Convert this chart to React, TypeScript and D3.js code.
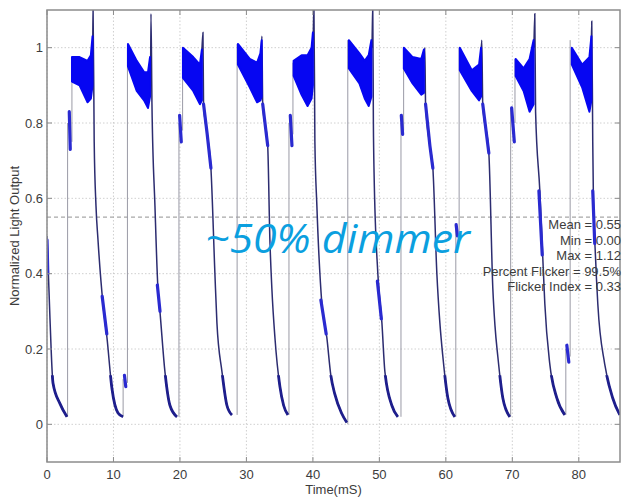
import React from "react";
import * as d3 from "d3";

const W = 624;
const H = 499;

const xTicks = [0, 10, 20, 30, 40, 50, 60, 70, 80];
const yTicks = [0, 0.2, 0.4, 0.6, 0.8, 1];
const yTickLabels = ["0", "0.2", "0.4", "0.6", "0.8", "1"];
const xLabel = "Time(mS)";
const yLabel = "Normalized Light Output";
const statLines = [
  "Mean = 0.55",
  "Min = 0.00",
  "Max = 1.12",
  "Percent Flicker = 99.5%",
  "Flicker Index = 0.33",
];
const meanLevel = 0.55;
const annotation = "~50% dimmer";

// rising edges: [time, from, to]
const riseEdges = [
  [3.1, 0.02, 0.8], [3.75, 0.75, 0.97],
  [11.45, 0.02, 0.12], [12.1, 0.11, 1.0],
  [19.85, 0.02, 0.8], [20.4, 0.78, 1.0],
  [28.6, 0.025, 1.01],
  [36.4, 0.025, 0.8], [37.0, 0.77, 0.96],
  [45.25, 0.0, 1.02],
  [53.25, 0.02, 0.8], [53.65, 0.78, 1.0],
  [61.5, 0.02, 0.52], [62.0, 0.5, 1.0],
  [69.75, 0.02, 0.84], [70.4, 0.8, 0.97],
  [78.05, 0.025, 0.2], [78.7, 0.18, 1.02],
];

// plateau bands: [time, low, high]
const plateauBands = [
  [[3.76, 0.91, 0.975], [4.9, 0.9, 0.975], [6.1, 0.855, 0.965], [6.6, 0.865, 0.98], [6.85, 0.9, 1.03]],
  [[12.18, 0.95, 1.01], [13.5, 0.885, 0.965], [14.6, 0.86, 0.935], [15.2, 0.84, 0.935], [15.5, 0.87, 0.975]],
  [[20.45, 0.92, 1.0], [22.0, 0.885, 0.975], [23.0, 0.85, 0.955], [23.3, 0.86, 0.995]],
  [[28.72, 0.955, 1.01], [30.5, 0.895, 0.97], [31.6, 0.855, 0.96], [32.1, 0.86, 0.985], [32.3, 0.87, 1.02]],
  [[37.1, 0.925, 0.965], [38.3, 0.875, 0.98], [39.2, 0.845, 0.98], [39.8, 0.865, 1.0], [40.0, 0.9, 1.04]],
  [[45.41, 0.945, 1.02], [47.0, 0.905, 0.985], [47.8, 0.865, 0.965], [48.4, 0.845, 0.98], [48.8, 0.87, 1.02]],
  [[53.68, 0.945, 1.0], [55.0, 0.905, 0.975], [56.3, 0.875, 0.97], [56.7, 0.88, 0.995]],
  [[62.1, 0.94, 1.0], [63.9, 0.885, 0.94], [65.0, 0.86, 0.955], [65.3, 0.87, 1.0]],
  [[70.5, 0.925, 0.97], [71.7, 0.885, 0.945], [72.6, 0.83, 0.97], [73.2, 0.85, 1.02]],
  [[78.95, 0.955, 1.0], [80.5, 0.895, 0.955], [81.6, 0.83, 0.975], [81.9, 0.86, 1.03]],
];

// falling edges and decays: [time, value]
const fallCurves = [
  [[0, 0.5], [0.15, 0.43], [0.45, 0.28], [0.9, 0.11], [1.95, 0.055], [3.0, 0.02]],
  [[6.88, 1.0], [6.92, 1.12], [7.1, 0.75], [7.37, 0.58], [7.67, 0.49], [8.42, 0.32], [9.02, 0.23], [9.77, 0.095], [10.68, 0.03], [11.43, 0.02]],
  [[15.6, 0.97], [15.64, 1.09], [15.79, 0.85], [16.24, 0.58], [16.69, 0.36], [16.99, 0.3], [17.74, 0.14], [18.5, 0.05], [19.55, 0.02]],
  [[23.3, 0.99], [23.46, 1.04], [23.55, 0.85], [24.1, 0.77], [24.66, 0.68], [25.26, 0.4], [25.56, 0.27], [26.32, 0.14], [27.07, 0.05], [27.82, 0.025]],
  [[32.25, 1.0], [32.33, 1.03], [32.45, 0.85], [33.2, 0.74], [33.53, 0.49], [33.83, 0.36], [34.29, 0.23], [35.04, 0.1], [35.6, 0.05], [36.24, 0.025]],
  [[40.05, 1.02], [40.15, 1.12], [40.3, 0.75], [40.6, 0.58], [41.35, 0.32], [42.1, 0.23], [42.7, 0.13], [43.3, 0.08], [44.3, 0.03], [45.1, 0.005]],
  [[48.9, 1.0], [49.0, 1.12], [49.1, 0.8], [49.2, 0.67], [49.77, 0.4], [50.38, 0.27], [50.83, 0.14], [51.88, 0.05], [52.78, 0.02]],
  [[56.75, 0.97], [56.84, 1.0], [56.95, 0.85], [57.6, 0.74], [58.05, 0.68], [58.65, 0.4], [59.1, 0.27], [59.55, 0.18], [60.3, 0.07], [61.35, 0.02]],
  [[65.3, 0.99], [65.41, 1.02], [65.55, 0.85], [66.47, 0.72], [67.07, 0.36], [67.4, 0.26], [67.82, 0.18], [68.57, 0.07], [69.62, 0.02]],
  [[73.25, 1.0], [73.38, 1.09], [73.5, 0.83], [74.14, 0.62], [74.59, 0.44], [74.89, 0.32], [75.64, 0.16], [76.69, 0.07], [77.89, 0.025]],
  [[81.9, 1.02], [81.95, 1.07], [82.1, 0.75], [82.2, 0.6], [82.5, 0.45], [82.86, 0.32], [83.9, 0.16], [85.1, 0.07], [86.17, 0.025]],
];

// dense blue segments: [time, value]
const blueStrokes = [
  [[0.0, 0.49], [0.12, 0.4]],
  [[3.35, 0.83], [3.5, 0.73]],
  [[8.3, 0.34], [9.0, 0.24]],
  [[11.65, 0.13], [11.85, 0.1]],
  [[16.6, 0.37], [17.0, 0.3]],
  [[19.95, 0.82], [20.2, 0.75]],
  [[23.55, 0.85], [24.1, 0.77], [24.66, 0.68]],
  [[32.45, 0.85], [33.2, 0.74]],
  [[36.6, 0.82], [36.85, 0.74]],
  [[41.2, 0.33], [42.0, 0.24]],
  [[49.7, 0.38], [50.3, 0.28]],
  [[53.3, 0.82], [53.5, 0.77]],
  [[56.95, 0.85], [57.6, 0.74], [58.05, 0.68]],
  [[61.55, 0.53], [61.75, 0.5]],
  [[65.55, 0.85], [66.47, 0.72]],
  [[69.9, 0.84], [70.3, 0.75]],
  [[74.0, 0.62], [74.5, 0.45]],
  [[78.2, 0.21], [78.5, 0.165]],
  [[82.1, 0.62], [82.4, 0.48]],
];

const L = 47, R = 620, T = 10, B = 462;

export default function App() {
  const x = d3.scaleLinear().domain([0, 86.2]).range([L, R]);
  const y = d3.scaleLinear().domain([-0.1, 1.1]).range([B, T]);

  const line = d3
    .line<number[]>()
    .x((d) => x(d[0]))
    .y((d) => y(d[1]))
    .curve(d3.curveMonotoneX);
  const straight = d3
    .line<number[]>()
    .x((d) => x(d[0]))
    .y((d) => y(d[1]));
  const area = d3
    .area<number[]>()
    .x((d) => x(d[0]))
    .y0((d) => y(d[1]))
    .y1((d) => y(d[2]));

  const font = "'Liberation Sans', Arial, sans-serif";
  const txt = "#3c3c3c";

  return (
    <svg
      width={W}
      height={H}
      viewBox={`0 0 ${W} ${H}`}
      style={{ position: "absolute", left: 0, top: 0, background: "#fff" }}
    >
      <defs>
        <clipPath id="plot">
          <rect x={L} y={T} width={R - L} height={B - T} />
        </clipPath>
        <clipPath id="tail">
          <rect x={L} y={y(0.13)} width={R - L} height={B - y(0.13)} />
        </clipPath>
      </defs>
      <rect x={0} y={0} width={W} height={H} fill="#fff" />

      {/* grid */}
      <g stroke="#c4c4c4" strokeWidth={0.8} strokeDasharray="1.5,2">
        {xTicks.map((t) => (
          <line key={"gx" + t} x1={x(t)} x2={x(t)} y1={T} y2={B} />
        ))}
        {yTicks.map((t) => (
          <line key={"gy" + t} x1={L} x2={R} y1={y(t)} y2={y(t)} />
        ))}
      </g>

      {/* mean line */}
      <line
        x1={L}
        x2={R}
        y1={y(meanLevel)}
        y2={y(meanLevel)}
        stroke="#a8a8a8"
        strokeWidth={1.2}
        strokeDasharray="4,3"
      />

      <g clipPath="url(#plot)">
        {riseEdges.map((e, i) => (
          <line
            key={"r" + i}
            x1={x(e[0])}
            x2={x(e[0])}
            y1={y(e[1])}
            y2={y(e[2])}
            stroke="#9a9aa6"
            strokeWidth={1}
          />
        ))}
        {fallCurves.map((c, i) => (
          <path key={"f" + i} d={line(c) || ""} fill="none" stroke="#2c2c70" strokeWidth={1.5} />
        ))}
        <g clipPath="url(#tail)">
          {fallCurves.map((c, i) => (
            <path key={"ft" + i} d={line(c) || ""} fill="none" stroke="#1e1e8c" strokeWidth={2.8} />
          ))}
        </g>
        {plateauBands.map((p, i) => (
          <path
            key={"p" + i}
            d={area(p) || ""}
            fill="#0606f2"
            stroke="#0606f2"
            strokeWidth={2}
            strokeLinejoin="round"
          />
        ))}
        {blueStrokes.map((s, i) => (
          <path
            key={"b" + i}
            d={straight(s) || ""}
            fill="none"
            stroke="#2a2ad0"
            strokeWidth={3.2}
            strokeLinecap="round"
          />
        ))}
      </g>

      {/* box and ticks */}
      <rect x={L} y={T} width={R - L} height={B - T} fill="none" stroke="#8c8c8c" strokeWidth={1.5} />
      <g stroke="#8c8c8c" strokeWidth={1}>
        {xTicks.map((t) => (
          <g key={"tx" + t}>
            <line x1={x(t)} x2={x(t)} y1={B} y2={B - 5} />
            <line x1={x(t)} x2={x(t)} y1={T} y2={T + 5} />
          </g>
        ))}
        {yTicks.map((t) => (
          <g key={"ty" + t}>
            <line x1={L} x2={L + 5} y1={y(t)} y2={y(t)} />
            <line x1={R} x2={R - 5} y1={y(t)} y2={y(t)} />
          </g>
        ))}
      </g>

      {/* tick labels */}
      <g fontFamily={font} fontSize={13} fill={txt}>
        {xTicks.map((t) => (
          <text key={"lx" + t} x={x(t)} y={479} textAnchor="middle">
            {String(t)}
          </text>
        ))}
        {yTicks.map((t, i) => (
          <text key={"ly" + t} x={43} y={y(t) + 4.5} textAnchor="end">
            {yTickLabels[i]}
          </text>
        ))}
      </g>
      <text x={(L + R) / 2} y={494} textAnchor="middle" fontFamily={font} fontSize={13} fill={txt}>
        {xLabel}
      </text>
      <text
        transform={`translate(19, ${(T + B) / 2}) rotate(-90)`}
        textAnchor="middle"
        fontFamily={font}
        fontSize={13}
        fill={txt}
      >
        {yLabel}
      </text>

      {/* stats */}
      <g fontFamily={font} fontSize={13} fill={txt} textAnchor="end">
        {statLines.map((s, i) => (
          <text key={"s" + i} x={621} y={229 + i * 15.5}>
            {s}
          </text>
        ))}
      </g>

      {/* annotation */}
      <text
        x={205}
        y={253}
        fontFamily="'Open Sans', 'Noto Sans', sans-serif"
        fontStyle="italic"
        fontSize={41}
        fill="#0b9fdf"
        textLength={265}
        lengthAdjust="spacingAndGlyphs"
      >
        {annotation}
      </text>
    </svg>
  );
}
